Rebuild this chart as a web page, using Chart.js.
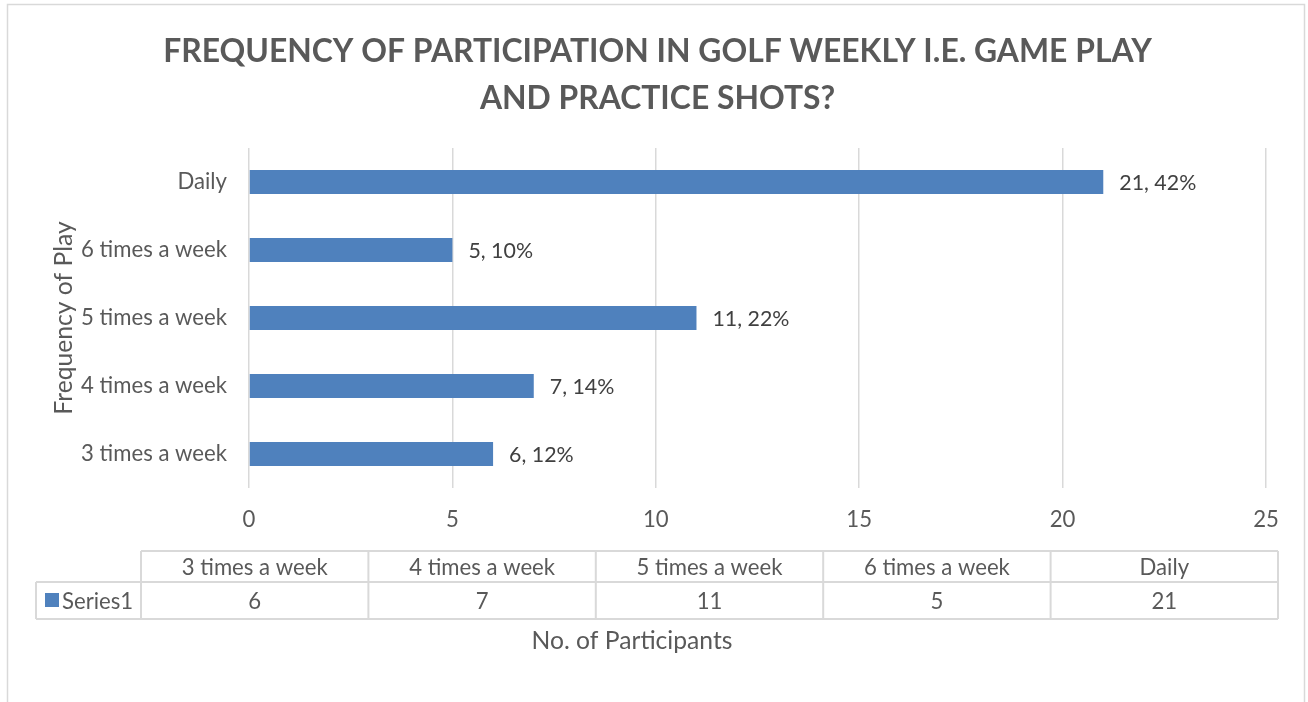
<!DOCTYPE html>
<html>
<head>
<meta charset="utf-8">
<script src="https://cdn.jsdelivr.net/npm/chart.js@4/dist/chart.umd.min.js"></script>
<style>
html,body{margin:0;padding:0;background:#fff;}
#c{display:block;}
</style>
</head>
<body>
<canvas id="c" width="1308" height="702"></canvas>
<script>
// ---- data ----
const categories = ['3 times a week', '4 times a week', '5 times a week', '6 times a week', 'Daily'];
const participants = [6, 7, 11, 5, 21];
const seriesName = 'Series1';
const xTicks = [0, 5, 10, 15, 20, 25];
const titleLines = ['FREQUENCY OF PARTICIPATION IN GOLF WEEKLY I.E. GAME PLAY', 'AND PRACTICE SHOTS?'];
const yAxisTitle = 'Frequency of Play';
const xAxisTitle = 'No. of Participants';

const total = participants.reduce((a, b) => a + b, 0);
const FONT = "Lato, 'Open Sans', 'DejaVu Sans', sans-serif";
const TXT = '#595959';
const BAR = '#4F81BD';
const GRID = '#d9d9d9';

function fitSize(text, weight, target) {
  const c = document.createElement('canvas').getContext('2d');
  c.font = weight + ' 100px ' + FONT;
  return 100 * target / c.measureText(text).width;
}
const titleSize = fitSize(titleLines[0], 'bold', 989);
const labelSize = fitSize('3 times a week', 'normal', 146);
const valueSize = fitSize('21, 42%', 'normal', 77);
const axisTitleSize = fitSize(xAxisTitle, 'normal', 201);

const bg = {
  id: 'bg',
  beforeDraw(chart) {
    const ctx = chart.ctx;
    ctx.save();
    ctx.fillStyle = '#fff';
    ctx.fillRect(0, 0, chart.width, chart.height);
    ctx.strokeStyle = GRID;
    ctx.lineWidth = 1.5;
    ctx.strokeRect(7.5, 4.5, 1297, 720);
    ctx.restore();
  }
};

const labelsPlugin = {
  id: 'valLabels',
  afterDatasetsDraw(chart) {
    const ctx = chart.ctx;
    const meta = chart.getDatasetMeta(0);
    ctx.save();
    ctx.font = valueSize + 'px ' + FONT;
    ctx.fillStyle = '#404040';
    ctx.textAlign = 'left';
    ctx.textBaseline = 'middle';
    meta.data.forEach((bar, i) => {
      const v = participants[i];
      const pct = Math.round(v / total * 100);
      ctx.fillText(v + ', ' + pct + '%', bar.x + 16, bar.y + 1);
    });
    ctx.restore();
  }
};

const tablePlugin = {
  id: 'dataTable',
  afterDraw(chart) {
    const ctx = chart.ctx;
    const left = 141, right = 1278, legendLeft = 36;
    const top = 551, mid = 582, bottom = 619;
    const n = categories.length;
    const cw = (right - left) / n;
    ctx.save();
    ctx.strokeStyle = GRID;
    ctx.lineWidth = 2;
    ctx.beginPath();
    ctx.moveTo(left, top); ctx.lineTo(right, top);
    ctx.moveTo(legendLeft, mid); ctx.lineTo(right, mid);
    ctx.moveTo(legendLeft, bottom); ctx.lineTo(right, bottom);
    ctx.moveTo(legendLeft, mid); ctx.lineTo(legendLeft, bottom);
    for (let i = 0; i <= n; i++) {
      const x = left + i * cw;
      ctx.moveTo(x, top); ctx.lineTo(x, bottom);
    }
    ctx.stroke();

    ctx.font = labelSize + 'px ' + FONT;
    ctx.fillStyle = TXT;
    ctx.textAlign = 'center';
    ctx.textBaseline = 'middle';
    for (let i = 0; i < n; i++) {
      const cx = left + (i + 0.5) * cw;
      ctx.fillText(categories[i], cx, (top + mid) / 2 + 1);
      ctx.fillText(String(participants[i]), cx, (mid + bottom) / 2 + 1);
    }
    // legend key
    ctx.fillStyle = BAR;
    ctx.fillRect(45, 593, 14, 14);
    ctx.fillStyle = TXT;
    ctx.textAlign = 'left';
    ctx.fillText(seriesName, 62, (mid + bottom) / 2 + 1);

    // x axis title
    ctx.font = axisTitleSize + 'px ' + FONT;
    ctx.textAlign = 'center';
    ctx.fillText(xAxisTitle, 632, 641);
    ctx.restore();
  }
};

new Chart(document.getElementById('c'), {
  type: 'bar',
  data: {
    labels: categories,
    datasets: [{
      label: seriesName,
      data: participants,
      backgroundColor: BAR,
      borderWidth: 0,
      categoryPercentage: 1,
      barPercentage: 0.353
    }]
  },
  options: {
    indexAxis: 'y',
    responsive: false,
    animation: false,
    devicePixelRatio: 1,
    layout: { padding: { top: 0, right: 42, bottom: 0, left: 49 } },
    plugins: {
      legend: { display: false },
      tooltip: { enabled: false },
      title: {
        display: true,
        text: titleLines,
        color: TXT,
        font: { family: FONT, weight: 'bold', size: titleSize, lineHeight: '47px' },
        padding: { top: 28.5, bottom: 25.5 }
      }
    },
    scales: {
      x: {
        type: 'linear',
        min: xTicks[0],
        max: xTicks[xTicks.length - 1],
        afterBuildTicks(scale) { scale.ticks = xTicks.map(v => ({ value: v })); },
        afterFit(scale) { scale.height = 702 - 488; },
        grid: { color: GRID, lineWidth: 1.5, drawTicks: false },
        border: { display: false },
        ticks: { color: TXT, font: { family: FONT, size: labelSize }, padding: 19 }
      },
      y: {
        reverse: true,
        afterFit(scale) { scale.width = 200; },
        grid: { display: false, drawTicks: false },
        border: { display: false },
        ticks: { color: TXT, font: { family: FONT, size: labelSize }, padding: 22 },
        title: {
          display: true,
          text: yAxisTitle,
          color: TXT,
          font: { family: FONT, size: axisTitleSize, lineHeight: 1.2 },
          padding: { top: 0, bottom: 0 }
        }
      }
    }
  },
  plugins: [bg, labelsPlugin, tablePlugin]
});
</script>
</body>
</html>
